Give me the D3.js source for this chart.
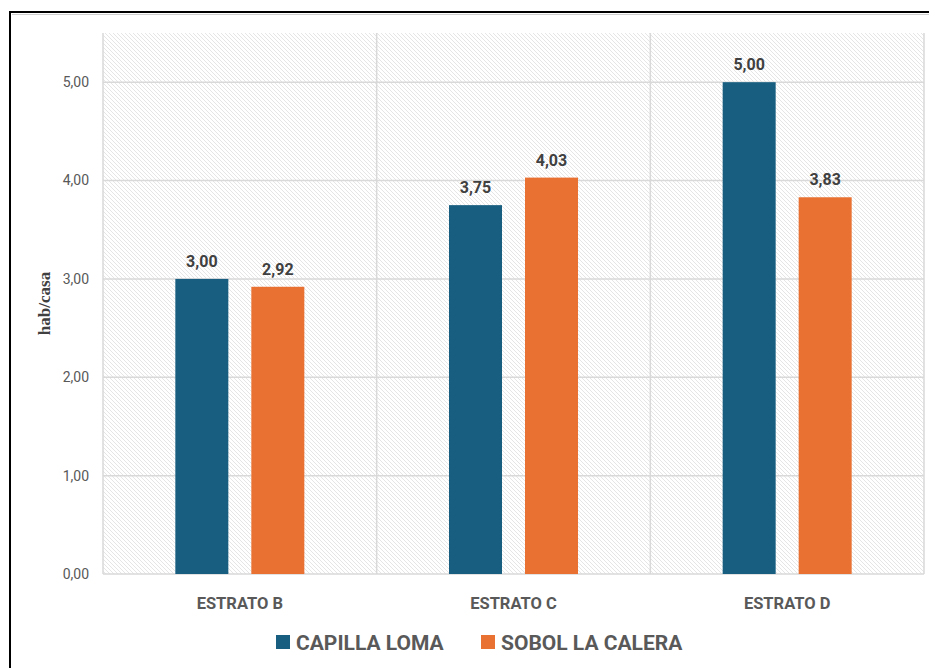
<!DOCTYPE html>
<html>
<head>
<meta charset="utf-8">
<script src="https://cdn.jsdelivr.net/npm/d3@7"></script>
<style>
  html, body { margin: 0; padding: 0; background: #fff; }
  svg { display: block; }
</style>
</head>
<body>
<svg id="chart" width="929" height="668"></svg>
<script>
const categories = ['ESTRATO B', 'ESTRATO C', 'ESTRATO D']
const seriesNames = ['CAPILLA LOMA', 'SOBOL LA CALERA']
const capillaLoma = [3.00, 3.75, 5.00]
const sobolLaCalera = [2.92, 4.03, 3.83]
const yTicks = [0, 1, 2, 3, 4, 5]

const COLORS = ['#175E80', '#E97132']
const fmt = (v) => v.toFixed(2).replace('.', ',')

const svg = d3.select('#chart')
const W = 929, H = 668
const plot = { left: 103, top: 33, right: 924, bottom: 574 }

// outer frame (only top and left edges visible)
svg.append('rect').attr('x', 10).attr('y', 12).attr('width', W + 20).attr('height', H + 20)
  .attr('fill', '#fff').attr('stroke', '#000').attr('stroke-width', 2)
svg.append('line').attr('x1', 12).attr('x2', W).attr('y1', 14.5).attr('y2', 14.5)
  .attr('stroke', '#cfcfcf').attr('stroke-width', 1)

const defs = svg.append('defs')
const pat = defs.append('pattern')
  .attr('id', 'hatch')
  .attr('patternUnits', 'userSpaceOnUse')
  .attr('width', 4).attr('height', 4)
pat.append('rect').attr('width', 4).attr('height', 4).attr('fill', '#fff')
pat.append('path')
  .attr('d', 'M-1,-1L5,5M-1,3L1,5M3,-1L5,1')
  .attr('stroke', '#e2e2e2').attr('stroke-width', 0.9)

const x = d3.scaleBand().domain(categories).range([plot.left, plot.right]).padding(0)
const y = d3.scaleLinear().domain([0, 5.5]).range([plot.bottom, plot.top])

const barW = 53, gap = 23
const inner = d3.scaleOrdinal().domain([0, 1])
  .range([(x.bandwidth() - (2 * barW + gap)) / 2, (x.bandwidth() - (2 * barW + gap)) / 2 + barW + gap])

svg.append('rect')
  .attr('x', plot.left).attr('y', plot.top)
  .attr('width', plot.right - plot.left).attr('height', plot.bottom - plot.top)
  .attr('fill', 'url(#hatch)')

// grid
const grid = svg.append('g').attr('stroke', '#d9d9d9').attr('stroke-width', 1.5)
grid.selectAll('line.h').data(yTicks).join('line')
  .attr('x1', plot.left).attr('x2', plot.right)
  .attr('y1', (d) => y(d)).attr('y2', (d) => y(d))
grid.selectAll('line.v').data(categories.map((c) => x(c)).concat([plot.right])).join('line')
  .attr('class', 'v')
  .attr('x1', (d) => d).attr('x2', (d) => d)
  .attr('y1', plot.top).attr('y2', plot.bottom)

// y axis labels
svg.append('g').selectAll('text').data(yTicks).join('text')
  .attr('x', 89).attr('y', (d) => y(d))
  .attr('dy', '0.35em')
  .attr('text-anchor', 'end')
  .attr('font-family', 'Roboto, "Noto Sans", sans-serif')
  .attr('font-size', 14)
  .attr('fill', '#595959')
  .text((d) => fmt(d))

svg.append('text')
  .attr('transform', `translate(50,${(plot.top + plot.bottom) / 2}) rotate(-90)`)
  .attr('text-anchor', 'middle')
  .attr('font-family', '"Liberation Serif", "Times New Roman", serif')
  .attr('font-weight', 'bold')
  .attr('font-size', 17)
  .attr('fill', '#404040')
  .text('hab/casa')

// bars
const series = [capillaLoma, sobolLaCalera]
series.forEach((vals, si) => {
  const g = svg.append('g')
  g.selectAll('rect').data(vals).join('rect')
    .attr('x', (d, i) => x(categories[i]) + inner(si))
    .attr('y', (d) => y(d))
    .attr('width', barW)
    .attr('height', (d) => y(0) - y(d))
    .attr('fill', COLORS[si])
  g.selectAll('text').data(vals).join('text')
    .attr('x', (d, i) => x(categories[i]) + inner(si) + barW / 2)
    .attr('y', (d) => y(d) - 12)
    .attr('text-anchor', 'middle')
    .attr('font-family', 'Roboto, "Noto Sans", sans-serif')
    .attr('font-weight', 'bold')
    .attr('font-size', 16)
    .attr('fill', '#404040')
    .text((d) => fmt(d))
})

// category labels
svg.append('g').selectAll('text').data(categories).join('text')
  .attr('x', (d) => x(d) + x.bandwidth() / 2)
  .attr('y', 609)
  .attr('text-anchor', 'middle')
  .attr('font-family', 'Roboto, "Noto Sans", sans-serif')
  .attr('font-weight', 'bold')
  .attr('font-size', 16.5)
  .attr('fill', '#595959')
  .text((d) => d)

// legend
const legendX = [276, 481]
const legend = svg.append('g')
seriesNames.forEach((name, i) => {
  legend.append('rect')
    .attr('x', legendX[i]).attr('y', 635)
    .attr('width', 14).attr('height', 14)
    .attr('fill', COLORS[i])
  legend.append('text')
    .attr('x', legendX[i] + 20).attr('y', 650)
    .attr('font-family', 'Roboto, "Noto Sans", sans-serif')
    .attr('font-weight', 'bold')
    .attr('font-size', 21)
    .attr('fill', '#595959')
    .text(name)
})
</script>
</body>
</html>
